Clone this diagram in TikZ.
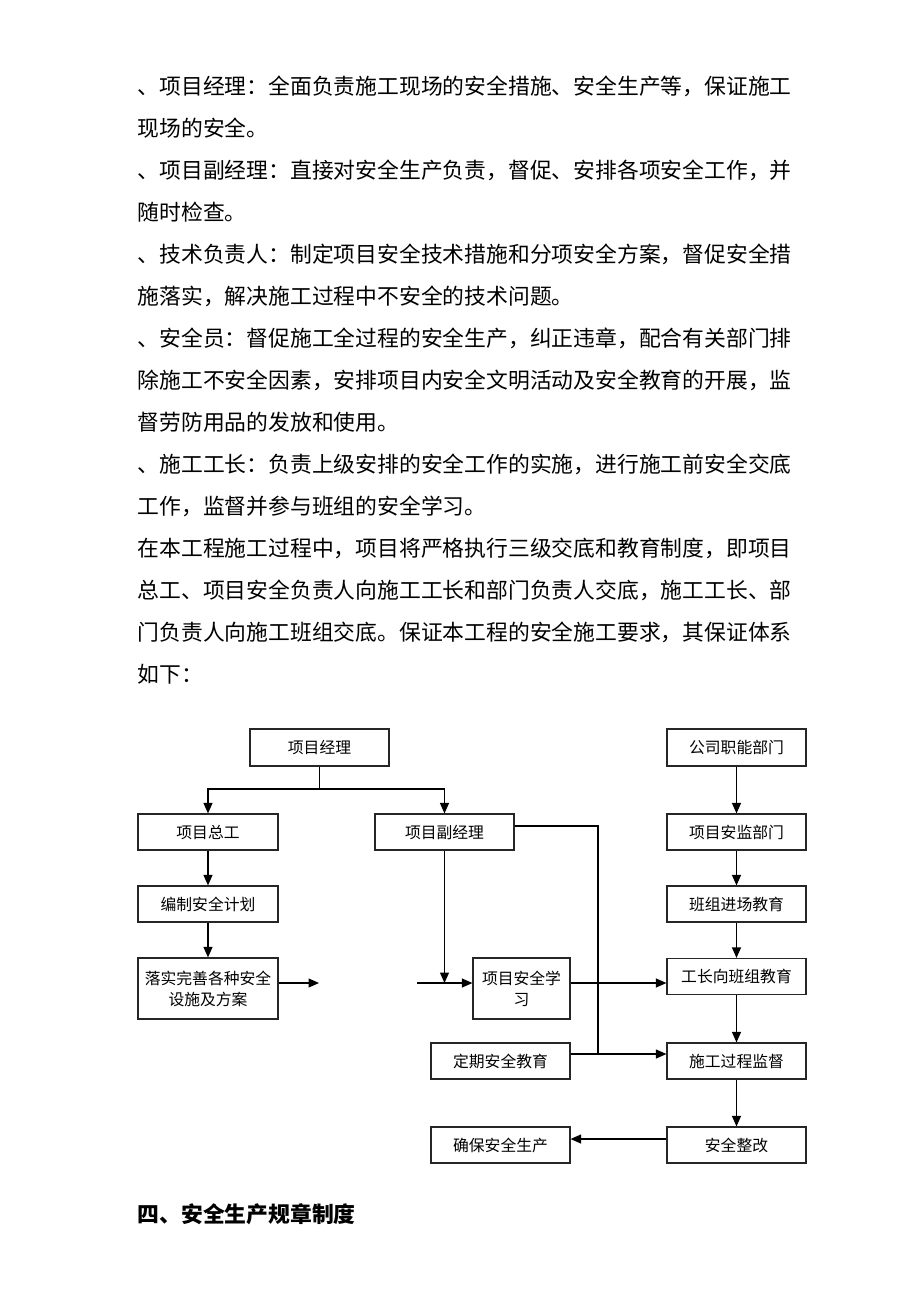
\documentclass[tikz,border=0pt]{standalone}
\usepackage{fontspec}
\setmainfont{Noto Sans CJK SC}
\usetikzlibrary{arrows.meta,positioning}

\begin{document}
\begin{tikzpicture}[x=1pt,y=-1pt,->,>={Triangle[length=10.5pt,width=9pt]},
  line width=1.2pt,
  flow box/.style={draw=black!85,fill=white,minimum width=139pt,
    minimum height=36pt,inner sep=2pt,align=center,
    font=\fontsize{15.8}{21}\selectfont},
  tall box/.style={flow box,minimum height=61pt},
  body line/.style={anchor=west,inner sep=0pt,
    font=\fontsize{21.8}{21.8}\selectfont}]
\useasboundingbox[fill=white] (0,0) rectangle (920,1302);
% text above the chart
\node[body line] (t1)  at (137,86)  {、项目经理：全面负责施工现场的安全措施、安全生产等，保证施工};
\node[body line] (t2)  at (137,128) {现场的安全。};
\node[body line] (t3)  at (137,170) {、项目副经理：直接对安全生产负责，督促、安排各项安全工作，并};
\node[body line] (t4)  at (137,212) {随时检查。};
\node[body line] (t5)  at (137,254) {、技术负责人：制定项目安全技术措施和分项安全方案，督促安全措};
\node[body line] (t6)  at (137,296) {施落实，解决施工过程中不安全的技术问题。};
\node[body line] (t7)  at (137,338) {、安全员：督促施工全过程的安全生产，纠正违章，配合有关部门排};
\node[body line] (t8)  at (137,380) {除施工不安全因素，安排项目内安全文明活动及安全教育的开展，监};
\node[body line] (t9)  at (137,422) {督劳防用品的发放和使用。};
\node[body line] (t10) at (137,464) {、施工工长：负责上级安排的安全工作的实施，进行施工前安全交底};
\node[body line] (t11) at (137,506) {工作，监督并参与班组的安全学习。};
\node[body line] (t12) at (137,548) {在本工程施工过程中，项目将严格执行三级交底和教育制度，即项目};
\node[body line] (t13) at (137,590) {总工、项目安全负责人向施工工长和部门负责人交底，施工工长、部};
\node[body line] (t14) at (137,632) {门负责人向施工班组交底。保证本工程的安全施工要求，其保证体系};
\node[body line] (t15) at (137,674) {如下：};
% chart, left part
\node[flow box,minimum height=37pt] (pm) at (319.5,747.5) {项目经理};
\node[flow box,minimum width=140pt] (zg) at (208,832) {项目总工};
\node[flow box] (fjl) at (444.5,832) {项目副经理};
\node[flow box,minimum width=140pt] (jh) at (208,904) {编制安全计划};
\node[tall box,minimum width=140pt] (ls) at (208,988.5) {落实完善各种安全\\设施及方案};
\node[tall box,minimum width=97pt] (xx) at (521.5,988.5) {项目安全学\\习};
\node[flow box] (dq) at (500.5,1061) {定期安全教育};
\node[flow box] (qb) at (500.5,1145) {确保安全生产};
% chart, right column
\node[flow box,minimum height=37pt] (gs) at (736.5,747.5) {公司职能部门};
\node[flow box] (aj) at (736.5,832) {项目安监部门};
\node[flow box] (bz) at (736.5,904) {班组进场教育};
\node[flow box] (gz) at (736.5,976.5) {工长向班组教育};
\node[flow box] (sg) at (736.5,1061) {施工过程监督};
\node[flow box] (zgg) at (736.5,1145) {安全整改};
\node[anchor=west,inner sep=0pt,font=\fontsize{21.8}{21.8}\selectfont\bfseries] (h4) at (137,1214) {四、安全生产规章制度};
% connectors
\coordinate (split) at (319.5,789);
\coordinate (gapL) at (319,983);
\coordinate (gapR) at (417,983);
\coordinate (turn) at (598,826);
\coordinate (join) at (598,1054);
\draw[-] (pm) -- (split);
\draw (split) -| (zg.north);
\draw (split) -| (fjl.north);
\draw (zg) -- (jh);
\draw (jh) -- (ls);
\draw (ls.east |- gapL) -- (gapL);
\draw (gapR) -- (gapR -| xx.west);
\draw (fjl.south) -- (fjl.south |- gapR);
\draw (xx.east |- gapR) -- (gapR -| gz.west);
\draw[-] (fjl.east |- turn) -- (turn) -- (join);
\draw (dq.east |- join) -- (join -| sg.west);
\draw (gs) -- (aj);
\draw (aj) -- (bz);
\draw (bz) -- (gz);
\draw (gz) -- (sg);
\draw (sg) -- (zgg);
\draw ([yshift=6pt]zgg.west) -- ([yshift=6pt]qb.east);
\end{tikzpicture}
\end{document}
